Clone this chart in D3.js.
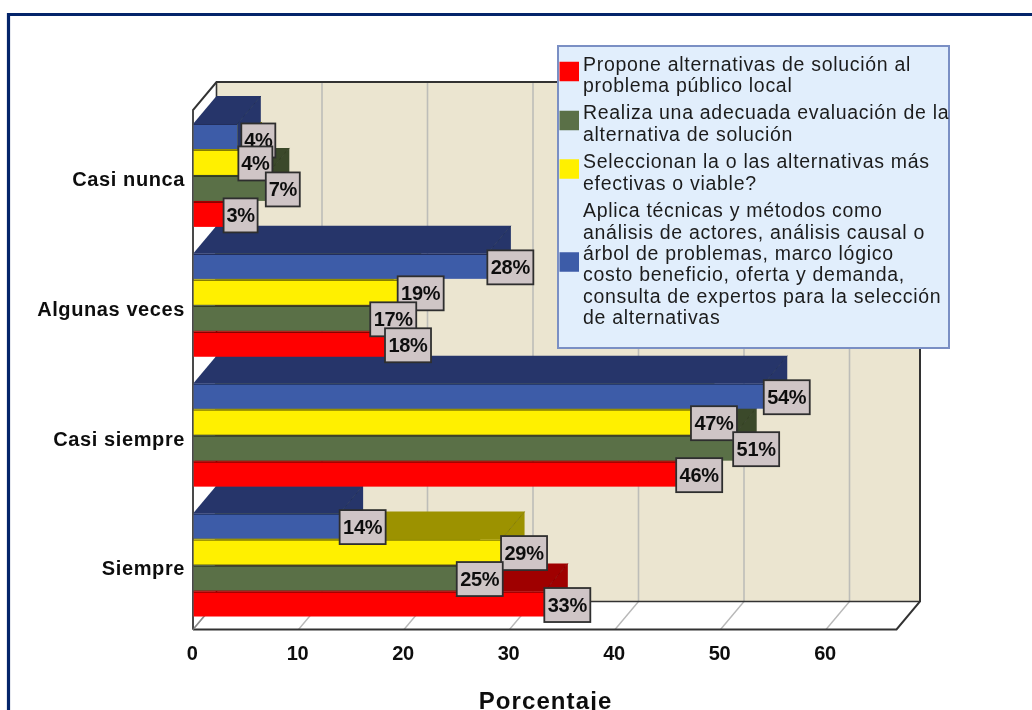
<!DOCTYPE html>
<html><head><meta charset="utf-8">
<script src="https://cdn.jsdelivr.net/npm/d3@7"></script>
<style>
html,body{margin:0;padding:0;background:#fff;overflow:hidden}
svg{display:block}
text{font-family:"Liberation Sans",Arial,sans-serif}
</style></head><body>
<svg id="c" width="1032" height="710"></svg>
<script>
const categories = ["Casi nunca","Algunas veces","Casi siempre","Siempre"];
const seriesNames = ["Propone","Realiza","Seleccionan","Aplica"];
const propone     = [2.9, 18.2, 45.8, 33.3];
const realiza     = [6.9, 16.8, 51.2, 25.0];
const seleccionan = [4.3, 19.4, 47.2, 29.2];
const aplica      = [4.2, 27.9, 54.1, 13.9];
const frontColors = ["#ff0000","#5a7047","#fff000","#3e5ba8"];
const topColors   = ["#9f0000","#3a4829","#9c9200","#26366a"];
const xTicks = [0,10,20,30,40,50,60];
const legendItems = [
  ["Propone alternativas de solución al","problema público local"],
  ["Realiza una adecuada evaluación de la","alternativa de solución"],
  ["Seleccionan la o las alternativas más","efectivas o viable?"],
  ["Aplica técnicas y métodos como","análisis de actores, análisis causal o","árbol de problemas, marco lógico","costo beneficio, oferta y demanda,","consulta de expertos para la selección","de alternativas"]
];
const seriesValues = [propone, realiza, seleccionan, aplica];

const svg = d3.select("#c");
const DX = 23.5, DY = 28;
const x = d3.scaleLinear().domain([0,60]).range([193,826]);
const xMax = 896.5, yTop = 110, yBot = 629.5;
const y = d3.scaleBand().domain(categories).range([yTop+1,yBot+1]).paddingInner(0.2).paddingOuter(0.1);
const inner = d3.scaleBand().domain(seriesNames.slice().reverse()).range([0,y.bandwidth()]);

svg.append("defs").append("filter").attr("id","soft").attr("x","-5%").attr("y","-5%").attr("width","110%").attr("height","110%")
  .append("feGaussianBlur").attr("stdDeviation",0.45);

svg.append("path").attr("d","M8.5,710V14.5H1032").attr("fill","none").attr("stroke","#04246a").attr("stroke-width",3.2);

const g = svg.append("g").attr("filter","url(#soft)");
const line = d3.line();
const poly = (pts,fill)=>g.append("path").attr("d",line(pts)+"Z").attr("fill",fill);

// back wall, left wall, floor
poly([[193+DX,yTop-DY],[xMax+DX,yTop-DY],[xMax+DX,yBot-DY],[193+DX,yBot-DY]],"#ebe5d0");
poly([[193,yTop],[193+DX,yTop-DY],[193+DX,yBot-DY],[193,yBot]],"#ffffff");
poly([[193,yBot],[193+DX,yBot-DY],[xMax+DX,yBot-DY],[xMax,yBot]],"#ffffff");
xTicks.forEach(t=>{
  const X=x(t);
  if(t>0) g.append("line").attr("x1",X+DX).attr("x2",X+DX).attr("y1",yTop-DY).attr("y2",yBot-DY).attr("stroke","#bdbdb8").attr("stroke-width",1.6);
  g.append("line").attr("x1",X).attr("x2",X+DX).attr("y1",yBot).attr("y2",yBot-DY).attr("stroke","#b8b8b8").attr("stroke-width",1.4);
});
const dark="#333";
g.append("path").attr("d",line([[193,yBot],[193,yTop],[193+DX,yTop-DY],[xMax+DX,yTop-DY],[xMax+DX,yBot-DY],[xMax,yBot],[193,yBot]])).attr("fill","none").attr("stroke",dark).attr("stroke-width",2);
g.append("path").attr("d",line([[193+DX,yTop-DY],[193+DX,yBot-DY],[xMax+DX,yBot-DY]])).attr("fill","none").attr("stroke",dark).attr("stroke-width",1.6);
g.append("path").attr("d",line([[193+DX,yBot-DY],[193,yBot]])).attr("fill","none").attr("stroke","#888").attr("stroke-width",1.4);

// bars: lower categories first, within a category red → blue
categories.slice().reverse().forEach(cat=>{
  const ci=categories.indexOf(cat);
  seriesNames.forEach((s,si)=>{
    const v=seriesValues[si][ci], X=x(v), x0=x(0);
    const y0=y(cat)+inner(s), h=inner.bandwidth(), y1=y0+h;
    const edge=d3.color(topColors[si]).darker(0.4).formatHex();
    poly([[x0,y0],[x0+DX,y0-DY],[X+DX,y0-DY],[X,y0]],topColors[si]);
    poly([[X,y0],[X+DX,y0-DY],[X+DX,y1-DY],[X,y1]],topColors[si]);
    g.append("line").attr("x1",X).attr("x2",X+DX).attr("y1",y0).attr("y2",y0-DY).attr("stroke",edge).attr("stroke-width",1);
    g.append("rect").attr("x",x0).attr("y",y0).attr("width",X-x0).attr("height",h-1).attr("fill",frontColors[si]);
    g.append("line").attr("x1",x0).attr("x2",X).attr("y1",y0+0.5).attr("y2",y0+0.5).attr("stroke",edge).attr("stroke-width",1.2);
  });
});
g.append("line").attr("x1",193).attr("x2",193).attr("y1",yTop).attr("y2",yBot).attr("stroke","#555").attr("stroke-width",1.4);

// value labels: blue first so the others overlap it
[3,2,1,0].forEach(si=>{
  categories.forEach((cat,ci)=>{
    const v=seriesValues[si][ci], txt=Math.round(v)+"%";
    const w=txt.length>2?46:34, h=34;
    const hidden = si===3 && ci===0;       // this one label sits lower and to the right of its bar end
    const lx = x(v)+(hidden?4:0);
    const cy = y(cat)+inner(seriesNames[si])+inner.bandwidth()/2+0.5+(hidden?3:0);
    g.append("rect").attr("x",lx).attr("y",cy-h/2).attr("width",w).attr("height",h)
      .attr("fill","#cfc5c6").attr("stroke","#2f2f2f").attr("stroke-width",1.8);
    g.append("text").attr("x",lx+w/2).attr("y",cy+7).attr("text-anchor","middle")
      .attr("font-size",20).attr("font-weight","bold").attr("fill","#111").attr("letter-spacing",-0.3).text(txt);
  });
});

// axes
const axisX=d3.axisBottom(x).tickValues(xTicks).tickSize(0).tickPadding(0).tickFormat(d3.format("d"));
const ax=g.append("g").attr("transform",`translate(-1.5,${yBot+30})`).call(axisX);
ax.select(".domain").remove();
ax.selectAll("text").attr("dy",0).attr("y",0).attr("font-size",20).attr("font-weight","bold").attr("fill","#111").attr("letter-spacing",-0.4);

const axisY=d3.axisLeft(y).tickSize(0).tickPadding(8);
const ay=g.append("g").attr("transform","translate(193,3.5)").call(axisY);
ay.select(".domain").remove();
ay.selectAll("text").attr("font-size",20).attr("font-weight","bold").attr("fill","#111").attr("letter-spacing",0.6);

g.append("text").attr("x",545.5).attr("y",709).attr("text-anchor","middle").attr("font-size",24).attr("font-weight","bold").attr("fill","#111").attr("letter-spacing",1.1).text("Porcentaje");

// legend
g.append("rect").attr("x",558).attr("y",46).attr("width",391).attr("height",302).attr("fill","#e1eefc").attr("stroke","#7a8fc4").attr("stroke-width",2);
const lh=21.3;
const baselines=[70.8,119.3,168.3,217.3];
const swatchCentres=[71.5,120.5,169,262];
legendItems.forEach((lines,i)=>{
  const t=g.append("text").attr("font-size",19.5).attr("letter-spacing",0.7).attr("fill","#1c1c1c");
  lines.forEach((l,k)=>t.append("tspan").attr("x",583).attr("y",baselines[i]+k*lh).text(l));
  g.append("rect").attr("x",559.5).attr("y",swatchCentres[i]-9.75).attr("width",19.5).attr("height",19.5).attr("fill",frontColors[i]);
});
</script>
</body></html>
